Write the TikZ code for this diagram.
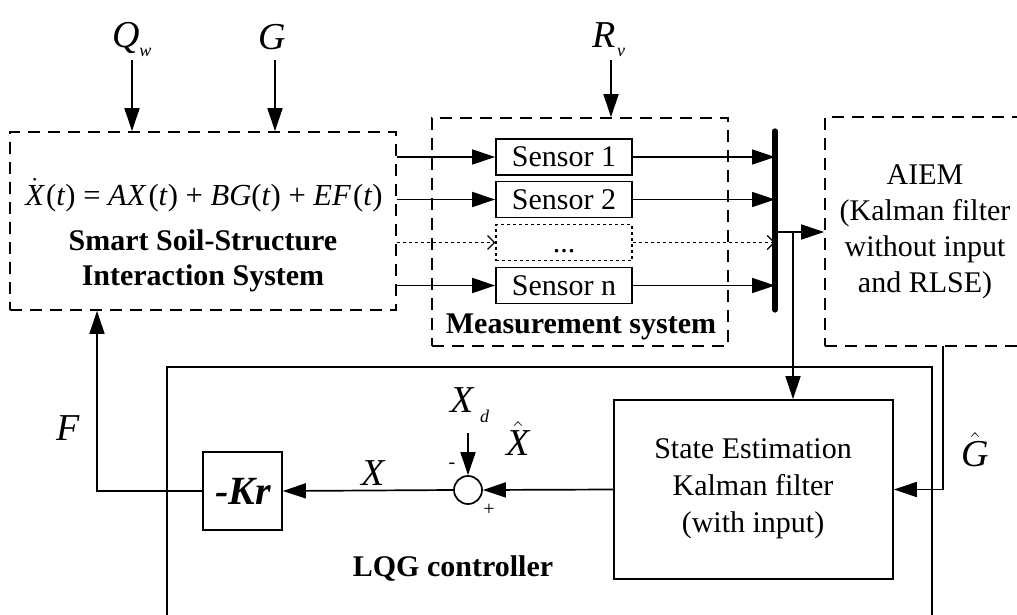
\documentclass[tikz,border=0pt]{standalone}
\usepackage{fontspec}
\setmainfont{Liberation Serif}
\usetikzlibrary{arrows.meta,fit}
\begin{document}
\begin{tikzpicture}[x=0.5pt,y=-0.5pt, line width=0.85pt,
  arr/.style={-{Triangle[length=11.5pt,width=7.5pt]}},
  barb/.style={-{Straight Barb[length=3.5pt,width=7pt,line width=0.6pt]}, dash pattern=on 1.5pt off 1.5pt, line width=0.6pt},
  dbox/.style={draw, dash pattern=on 6pt off 4pt, inner sep=0pt},
  sbox/.style={draw, inner sep=0pt},
  sensor/.style={draw, minimum width=68pt, minimum height=18pt, inner sep=0pt, font=\fontsize{15}{18}\selectfont},
  txt/.style={font=\fontsize{15}{18}\selectfont, align=center, inner sep=0pt},
  btxt/.style={font=\fontsize{15}{17.5}\selectfont\bfseries, align=center, inner sep=0pt},
  big/.style={font=\fontsize{19}{20}\selectfont\itshape, inner sep=0pt},
  sml/.style={font=\fontsize{10}{10}\selectfont, inner sep=0pt},
]
\useasboundingbox (0,0) rectangle (1017,615);

% ---- boxes
\node[dbox, fit={(10,132) (396,310)}] (ssi) {};
\node[dbox, fit={(432,118) (728,346)}] (meas) {};
\node[dbox, fit={(825,117) (1060,346)}] (aiem) {};
\node[sbox, fit={(167,367) (932,700)}] (lqg) {};
\node[sbox, fit={(614,400) (893,579)}] (kal) {};
\node[sbox, fit={(203,452) (282,530)}] (kr) {};
\node[draw, circle, minimum size=14pt, inner sep=0pt] (sum) at (468,490) {};

% ---- sensors
\node[sensor] (s1) at (564,157) {Sensor 1};
\node[sensor] (s2) at (564,199.5) {Sensor 2};
\node[sensor, dash pattern=on 1.5pt off 1.5pt, line width=0.6pt] (sd) at (564,242.5) {\vphantom{Sensor 1}...};
\node[sensor] (sn) at (564,285.5) {Sensor n};

% ---- texts
\node[txt, font=\fontsize{15.3}{18}\selectfont] at (204,195) {$\dot{\mbox{\itshape X}}$\kern1pt(\textit{t}) = \textit{AX}\kern1pt(\textit{t}) + \textit{BG}(\textit{t}) + \textit{EF}\kern1pt(\textit{t})};
\node[btxt] at (203,261) {Smart Soil-Structure\\Interaction System};
\node[btxt] at (581,327) {Measurement system};
\node[txt, font=\fontsize{15}{18}\selectfont] at (925,232) {AIEM\\(Kalman filter\\without input\\and RLSE)};
\node[txt, font=\fontsize{15}{18.5}\selectfont] at (753,489) {State Estimation\\Kalman filter\\(with input)};
\node[btxt] at (453,569) {LQG controller};
\node[inner sep=0pt, font=\fontsize{20}{20}\selectfont\bfseries\itshape] at (243,491) {-Kr};

% ---- labels
\node[big, anchor=base west] (qw) at (112,48) {Q\kern-0.5pt\raisebox{-4.5pt}{\fontsize{9}{9}\selectfont w}};
\node[big] (gl) at (272,37) {G};
\node[big, anchor=base west] (rv) at (592,48) {R\kern0.5pt\raisebox{-4.5pt}{\fontsize{9}{9}\selectfont v}};
\node[big] at (68,428) {F};
\node[big] at (373,473) {X};
\node[big] at (518,438) {$\hat{\mbox{\itshape X}}$};
\node[big] at (975,450) {$\hat{\mbox{\itshape G}}$};
\node[big, anchor=base west] at (450,412) {X\kern3pt\raisebox{-5pt}{\fontsize{9}{9}\selectfont d}};
\node[sml] at (452,466) {-};
\node[sml] at (489,510) {+};

% ---- coordinates
\coordinate (bartop) at (775,131);
\coordinate (barbot) at (775,310);
\coordinate (jn) at (793,232);
\coordinate (gx) at (943,346);
\coordinate (fx) at (97,489);
\coordinate (qa) at (132,60);
\coordinate (ga) at (275,60);
\coordinate (ra) at (611,60);
\coordinate (xd) at (468,433);

% ---- top inputs
\draw[arr] (qa) -- (qa |- ssi.north);
\draw[arr] (ga) -- (ga |- ssi.north);
\draw[arr] (ra) -- (ra |- meas.north);

% ---- system to sensors
\draw[arr] (s1.west -| ssi.east) -- (s1.west);
\draw[arr] (s2.west -| ssi.east) -- (s2.west);
\draw[barb] (sd.west -| ssi.east) -- (sd.west);
\draw[arr] (sn.west -| ssi.east) -- (sn.west);

% ---- sensors to bar
\draw[arr] (s1.east) -- (s1.east -| bartop);
\draw[arr] (s2.east) -- (s2.east -| bartop);
\draw[barb] (sd.east) -- (sd.east -| bartop);
\draw[arr] (sn.east) -- (sn.east -| bartop);
\draw[line width=2.6pt, line cap=round] (bartop) -- (barbot);

% ---- bar to AIEM and Kalman
\draw[arr] (jn -| bartop) -- (jn -| aiem.west);
\draw[arr] (jn) -- (jn |- kal.north);
\draw[arr] (gx) |- (kal.east);

% ---- controller chain
\draw[arr] (kal.west) -- (sum.east);
\draw[arr] (xd) -- (sum.north);
\draw[arr] (sum.west) -- (kr.east);
\draw[arr] (kr.west) -| (fx |- ssi.south);
\end{tikzpicture}
\end{document}
